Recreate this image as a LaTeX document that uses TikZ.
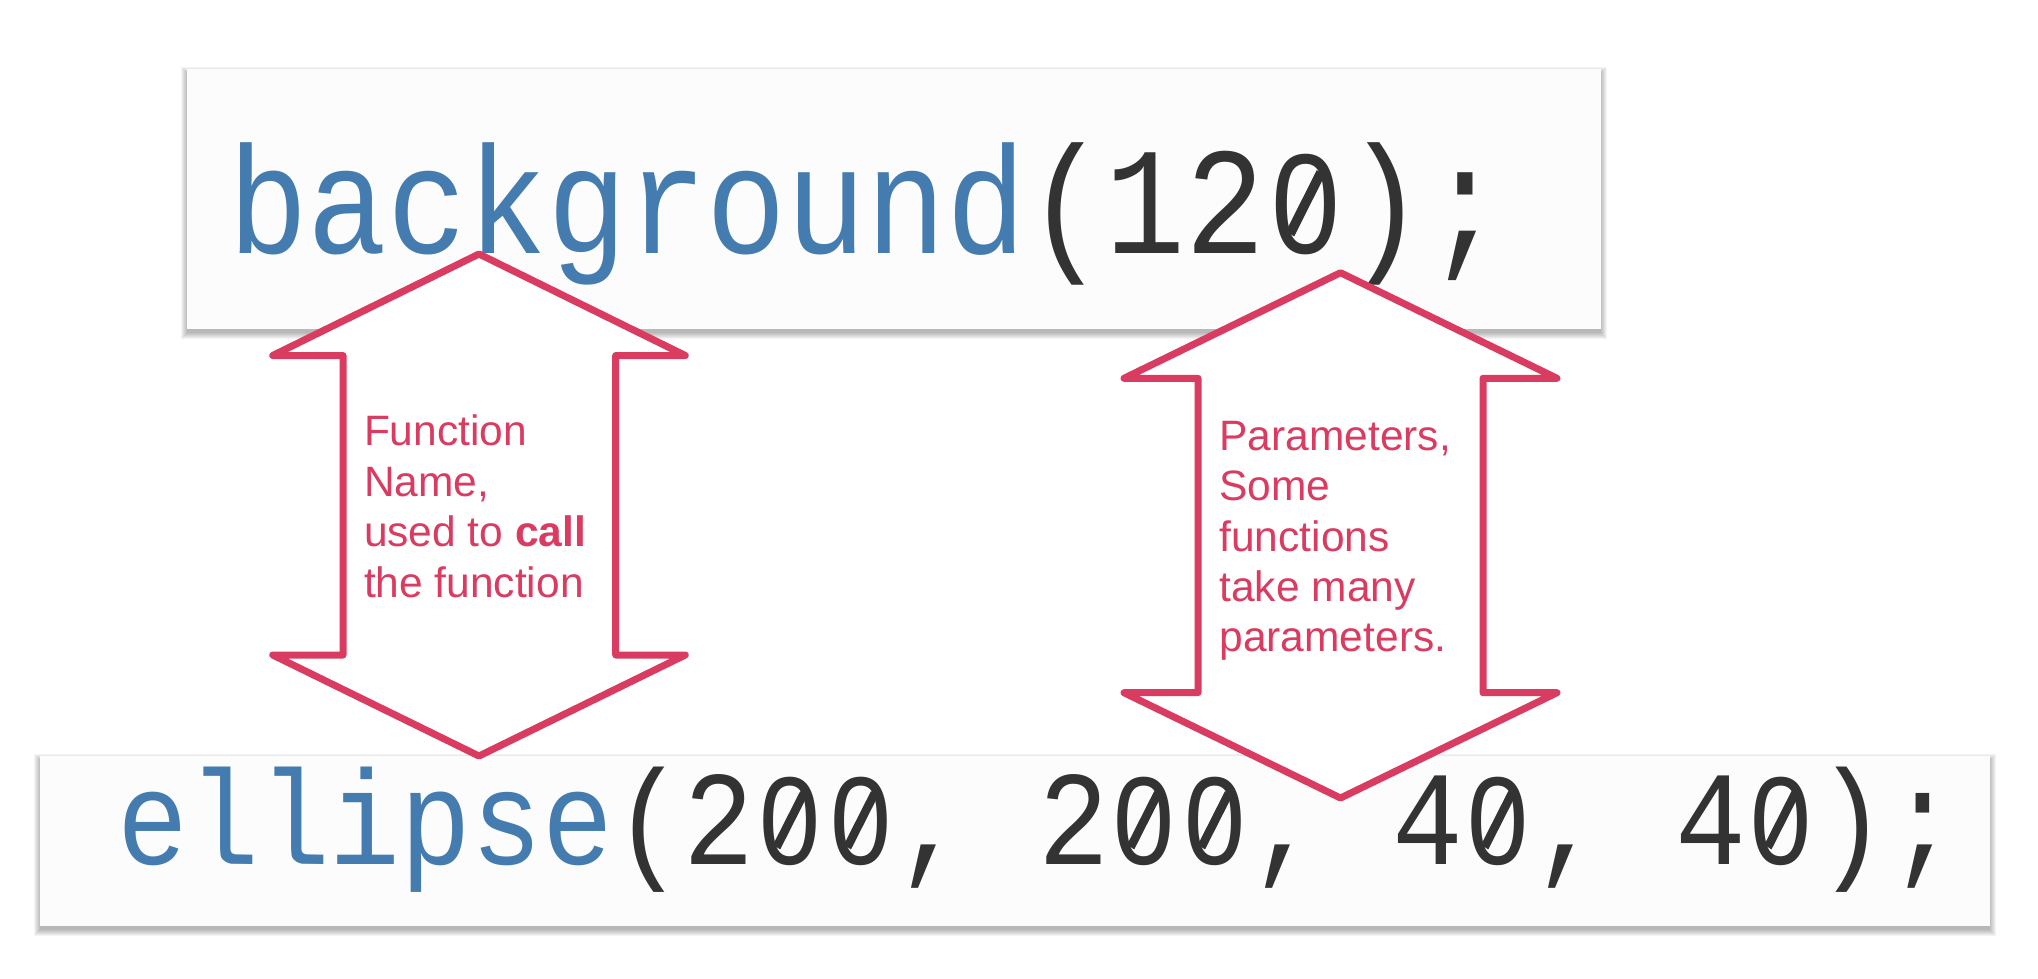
\documentclass[tikz,border=0pt]{standalone}
\usepackage{fontspec}
\usepackage{graphicx}
\setmainfont{Liberation Sans}
\newfontfamily\codefont{Liberation Mono}
\newfontfamily\zerofont{Liberation Sans}
\definecolor{codeblue}{HTML}{457CB0}
\definecolor{codedark}{HTML}{333333}
\definecolor{arrowred}{HTML}{DA3B61}
\definecolor{boxfill}{HTML}{FCFCFC}
\newcommand{\slzero}{\makebox[0.6em]{\ooalign{\scalebox{0.93}{\zerofont 0}\cr\hidewidth\raisebox{0.29em}{\rotatebox[origin=c]{60}{\rule{0.46em}{0.07em}}}\hidewidth\cr}}}
\begin{document}
\begin{tikzpicture}[x=1pt,y=-1pt,
  codebox/.style={fill=boxfill},
  codeshadow/.style={fill=black, opacity=0.045},
  codetext/.style={anchor=base west, inner sep=0, outer sep=0},
  bigarrow/.style={draw=arrowred, fill=white, line width=7, line join=round},
  lbltext/.style={anchor=north west, inner sep=0, outer sep=0, text=arrowred, align=left, font=\fontsize{42.5}{50.4}\selectfont}
]
\useasboundingbox[fill=white] (0,0) rectangle (2038,978);
% soft shadows of the two code boxes
\foreach \rr in {0,...,6} {
  \fill[codeshadow] (186.7-\rr, 73-\rr) rectangle (1601+\rr, 333+\rr);
  \fill[codeshadow] (40-\rr, 760-\rr) rectangle (1989.7+\rr, 929.7+\rr);
}
% code boxes
\path[codebox] (186.7,69) rectangle (1601,329);
\path[codebox] (40,756) rectangle (1989.7,925.7);
% code lines
\node[codetext] (bg) at (228,253) {\scalebox{1}[1.15]{\fontsize{133}{133}\codefont\textcolor{codeblue}{background}\textcolor{codedark}{(12\slzero);}}};
\node[codetext] (el) at (117.5,864) {\scalebox{1}[1.14]{\fontsize{118}{118}\codefont\textcolor{codeblue}{ellipse}\textcolor{codedark}{(2\slzero\slzero, 2\slzero\slzero, 4\slzero, 4\slzero);}}};
% double arrows
\draw[bigarrow] (479,254) -- (685.3,355.5) -- (615.7,355.5) -- (615.7,655) -- (685.3,655) -- (479,756) -- (272.7,655) -- (343,655) -- (343,355.5) -- (272.7,355.5) -- cycle;
\draw[bigarrow] (1340.5,272.7) -- (1557,378.3) -- (1483,378.3) -- (1483,692.7) -- (1557,692.7) -- (1340.5,798) -- (1124,692.7) -- (1198,692.7) -- (1198,378.3) -- (1124,378.3) -- cycle;
% labels
\node[lbltext] (fn) at (364,415) {Function\\Name,\\used to \textbf{call}\\the function};
\node[lbltext] (pm) at (1219.5,421) {Parameters,\\Some\\functions\\take many\\parameters.};
\end{tikzpicture}
\end{document}
